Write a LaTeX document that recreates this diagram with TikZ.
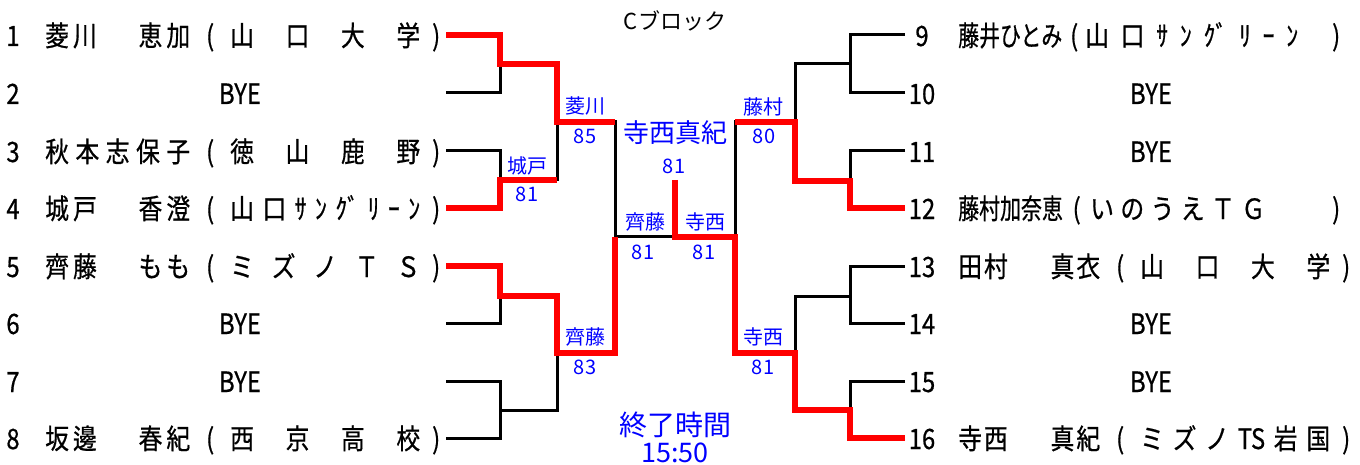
\documentclass[tikz,border=0pt]{standalone}
\usepackage{fontspec}
\usepackage{graphicx}
\newfontfamily\jpfont{Noto Sans CJK JP}
\newfontfamily\jpnarrow[FakeStretch=0.85,FakeBold=0.6]{Noto Sans CJK JP}
\newcommand\cellbox[2]{\makebox[#1pt][s]{#2}}
\newcommand\ctrbox[2]{\makebox[#1pt]{#2}}
\begin{document}
\begin{tikzpicture}[x=1pt,y=-1pt,
  blk/.style={line width=3pt, black, line join=miter},
  win/.style={line width=5.5pt, red, line join=miter},
  rowtxt/.style={inner sep=0pt, anchor=base west, font=\jpnarrow\fontsize{28}{30}\selectfont},
  rownum/.style={inner sep=0pt, anchor=base, font=\jpnarrow\fontsize{28}{30}\selectfont},
  byetxt/.style={inner sep=0pt, anchor=base, font=\jpnarrow\fontsize{28}{30}\selectfont},
  lbl/.style={inner sep=0pt, text=blue, font=\jpfont\fontsize{20}{22}\selectfont},
  biglbl/.style={inner sep=0pt, text=blue, font=\jpfont\fontsize{26}{28}\selectfont},
]
\useasboundingbox[fill=white] (0,0) rectangle (1360,465);

% ---------- title ----------
\node[inner sep=0pt, font=\jpfont\fontsize{22}{24}\selectfont] (title) at (675,21) {Cブロック};

% ---------- left entries ----------
\node[rownum] (p1) at (13,46) {1};
\node[rowtxt] (t1) at (45,46) {\cellbox{145}{菱\hspace{4pt}川\hfill 恵\hspace{4pt}加}\ctrbox{40}{(}\cellbox{190}{山\hfill 口\hfill 大\hfill 学}\ctrbox{32}{)}};
\node[rownum] (p2) at (13,104) {2};
\node[byetxt] (t2) at (240,104) {BYE};
\node[rownum] (p3) at (13,162) {3};
\node[rowtxt] (t3) at (45,162) {\cellbox{145}{秋\hfill 本\hfill 志\hfill 保\hfill 子}\ctrbox{40}{(}\cellbox{190}{徳\hfill 山\hfill 鹿\hfill 野}\ctrbox{32}{)}};
\node[rownum] (p4) at (13,219) {4};
\node[rowtxt] (t4) at (45,219) {\cellbox{145}{城\hspace{4pt}戸\hfill 香\hspace{4pt}澄}\ctrbox{40}{(}\cellbox{190}{山\hfill 口\hfill ｻ\hfill ﾝ\hfill ｸﾞ\hfill ﾘ\hfill ｰ\hfill ﾝ}\ctrbox{32}{)}};
\node[rownum] (p5) at (13,277) {5};
\node[rowtxt] (t5) at (45,277) {\cellbox{145}{齊\hspace{4pt}藤\hfill も\hspace{4pt}も}\ctrbox{40}{(}\cellbox{190}{ミ\hfill ズ\hfill ノ\hfill Ｔ\hfill Ｓ}\ctrbox{32}{)}};
\node[rownum] (p6) at (13,334) {6};
\node[byetxt] (t6) at (240,334) {BYE};
\node[rownum] (p7) at (13,392) {7};
\node[byetxt] (t7) at (240,392) {BYE};
\node[rownum] (p8) at (13,449) {8};
\node[rowtxt] (t8) at (45,449) {\cellbox{145}{坂\hspace{4pt}邊\hfill 春\hspace{4pt}紀}\ctrbox{40}{(}\cellbox{190}{西\hfill 京\hfill 高\hfill 校}\ctrbox{32}{)}};

% ---------- right entries ----------
\node[rownum] (p9) at (922,46) {9};
\node[rowtxt] (t9) at (958,46) {\makebox[105pt][l]{\scalebox{0.88}[1]{藤井ひとみ}}\ctrbox{22}{(}\cellbox{213}{山\hfill 口\hfill ｻ\hfill ﾝ\hfill ｸﾞ\hfill ﾘ\hfill ｰ\hfill ﾝ}\ctrbox{76}{)}};
\node[rownum] (p10) at (922,104) {10};
\node[byetxt] (t10) at (1151,104) {BYE};
\node[rownum] (p11) at (922,162) {11};
\node[byetxt] (t11) at (1151,162) {BYE};
\node[rownum] (p12) at (922,219) {12};
\node[rowtxt] (t12) at (958,219) {\makebox[105pt][l]{\scalebox{0.88}[1]{藤村加奈恵}}\ctrbox{27}{(}\cellbox{175}{い\hfill の\hfill う\hfill え\hfill Ｔ\hfill Ｇ}\ctrbox{142}{)}};
\node[rownum] (p13) at (922,277) {13};
\node[rowtxt] (t13) at (958,277) {\cellbox{142}{田\hspace{2pt}村\hfill 真\hspace{2pt}衣}\ctrbox{40}{(}\cellbox{190}{山\hfill 口\hfill 大\hfill 学}\ctrbox{32}{)}};
\node[rownum] (p14) at (922,334) {14};
\node[byetxt] (t14) at (1151,334) {BYE};
\node[rownum] (p15) at (922,392) {15};
\node[byetxt] (t15) at (1151,392) {BYE};
\node[rownum] (p16) at (922,449) {16};
\node[rowtxt] (t16) at (958,449) {\cellbox{142}{寺\hspace{2pt}西\hfill 真\hspace{2pt}紀}\ctrbox{40}{(}\cellbox{190}{ミ\hfill ズ\hfill ノ\hfill TS\hfill 岩\hfill 国}\ctrbox{32}{)}};

% ---------- bracket coordinates ----------
\coordinate (l1) at (446,35);  \coordinate (l2) at (446,93);
\coordinate (l3) at (446,151); \coordinate (l4) at (446,208);
\coordinate (l5) at (446,266); \coordinate (l6) at (446,323);
\coordinate (l7) at (446,381); \coordinate (l8) at (446,438);
\coordinate (r9) at (905,35);   \coordinate (r10) at (905,93);
\coordinate (r11) at (905,151); \coordinate (r12) at (905,208);
\coordinate (r13) at (905,266); \coordinate (r14) at (905,323);
\coordinate (r15) at (905,381); \coordinate (r16) at (905,438);
\coordinate (a1) at (500,64);  \coordinate (a2) at (500,180);
\coordinate (a3) at (500,296); \coordinate (a4) at (500,410);
\coordinate (b1) at (557,122); \coordinate (b2) at (557,353);
\coordinate (c1) at (615,237);
\coordinate (ch) at (675,237); \coordinate (champ) at (675,180);
\coordinate (d1) at (735,237);
\coordinate (e1) at (795,122); \coordinate (e2) at (795,353);
\coordinate (f1) at (850,64);  \coordinate (f2) at (850,181);
\coordinate (f3) at (850,296); \coordinate (f4) at (850,410);

% ---------- black bracket ----------
\draw[blk] (l1) -| (a1); \draw[blk] (l2) -| (a1);
\draw[blk] (l3) -| (a2); \draw[blk] (l4) -| (a2);
\draw[blk] (l5) -| (a3); \draw[blk] (l6) -| (a3);
\draw[blk] (l7) -| (a4); \draw[blk] (l8) -| (a4);
\draw[blk] (a1) -| (b1); \draw[blk] (a2) -| (b1);
\draw[blk] (a3) -| (b2); \draw[blk] (a4) -| (b2);
\draw[blk] (b1) -| (c1); \draw[blk] (b2) -| (c1);
\draw[blk] (c1) -- (d1);
\draw[blk] (r9) -| (f1);  \draw[blk] (r10) -| (f1);
\draw[blk] (r11) -| (f2); \draw[blk] (r12) -| (f2);
\draw[blk] (r13) -| (f3); \draw[blk] (r14) -| (f3);
\draw[blk] (r15) -| (f4); \draw[blk] (r16) -| (f4);
\draw[blk] (f1) -| (e1); \draw[blk] (f2) -| (e1);
\draw[blk] (f3) -| (e2); \draw[blk] (f4) -| (e2);
\draw[blk] (e1) -| (d1); \draw[blk] (e2) -| (d1);

% ---------- winners (red) ----------
\draw[win] (l1) -| (a1) -| (b1) -- (b1 -| c1);
\draw[win] (l4) -| (a2) -- (a2 -| b1);
\draw[win] (l5) -| (a3) -| (b2) -| (c1);
\draw[win] (champ) -- (ch) -- (d1) |- (e2) |- (f4) |- (r16);
\draw[win] (d1 |- e1) -- (e1) |- (f2) |- (r12);

% ---------- results ----------
\node[lbl] (w1) at (585,106) {菱川};
\node[lbl] (s1) at (585,136) {85};
\node[lbl] (w2) at (527,166) {城戸};
\node[lbl] (s2) at (527,194) {81};
\node[lbl] (w3) at (585,337) {齊藤};
\node[lbl] (s3) at (585,367) {83};
\node[lbl] (w4) at (763,107) {藤村};
\node[lbl] (s4) at (764,136) {80};
\node[lbl] (w5) at (763,337) {寺西};
\node[lbl] (s5) at (763,367) {81};
\node[lbl] (w6) at (645,222) {齊藤};
\node[lbl] (s6) at (643,252) {81};
\node[lbl] (w7) at (705,222) {寺西};
\node[lbl] (s7) at (704,252) {81};
\node[biglbl] (win) at (675,133) {寺西真紀};
\node[lbl] (wins) at (674,166) {81};
\node[inner sep=0pt, text=blue, font=\jpfont\fontsize{28}{30}\selectfont] (endl) at (675,425) {終了時間};
\node[inner sep=0pt, text=blue, font=\jpfont\fontsize{27}{29}\selectfont] (endt) at (675,453) {15:50};
\end{tikzpicture}
\end{document}
